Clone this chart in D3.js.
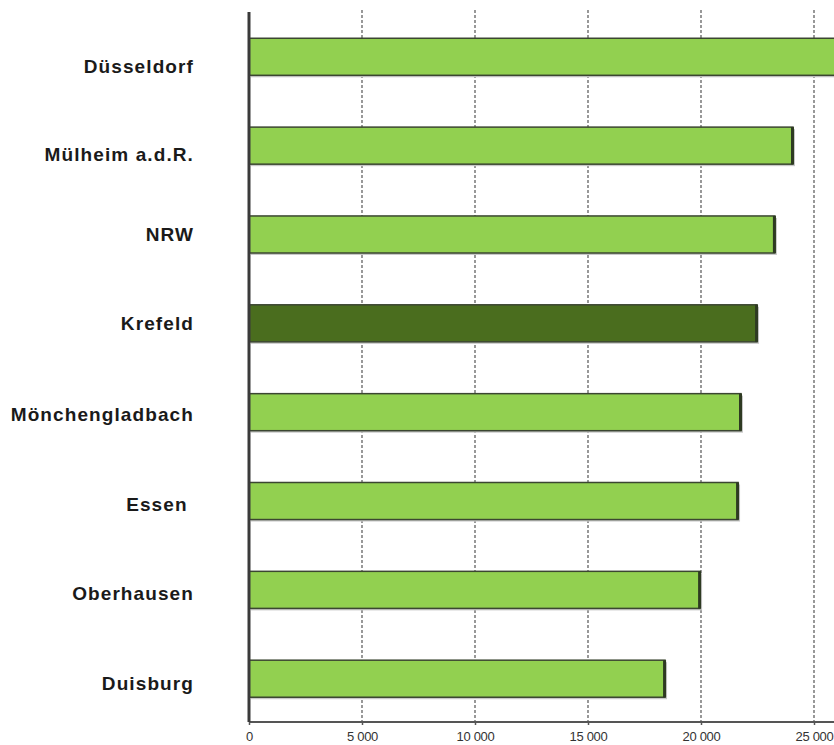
<!DOCTYPE html>
<html>
<head>
<meta charset="utf-8">
<script src="https://cdn.jsdelivr.net/npm/d3@7"></script>
<style>
    html, body { margin: 0; padding: 0; background: #fff; }
    svg { display: block; }
</style>
</head>
<body>
<div id="chart"></div>
<script>
// Data
const cities = ["Düsseldorf", "Mülheim a.d.R.", "NRW", "Krefeld", "Mönchengladbach", "Essen ", "Oberhausen", "Duisburg"];
const values = [26800, 24070, 23270, 22480, 21770, 21640, 19960, 18410];
const highlight = ["Krefeld"];
const tickValues = [0, 5000, 10000, 15000, 20000, 25000];

// Layout: small vertical nudges of the labels, as in the original
const labelNudge = [9, 9, 0, 0, 2, 3, 3, 4];

const width = 834, height = 745;
const axisX = 249;       // left edge of plot
const axisY = 722;       // baseline of x axis
const plotTop = 12;

const COLORS = {
    bar: "#92d050",
    barDark: "#4a6d1e",
    edge: "#3b4631",
    grid: "#555",
    axis: "#555",
    text: "#1a1a1a"
};

const svg = d3.select("#chart").append("svg")
    .attr("width", width)
    .attr("height", height);

const x = d3.scaleLinear()
    .domain([0, 25000])
    .range([axisX, 814]);

const y = d3.scaleBand()
    .domain(cities)
    .range([plotTop + 0.5, axisY + 1])
    .paddingInner(0.583)
    .paddingOuter(0.29);

// Gridlines (dashed)
svg.append("g")
    .selectAll("line")
    .data(tickValues.slice(1))
    .enter()
    .append("line")
    .attr("x1", d => x(d))
    .attr("x2", d => x(d))
    .attr("y1", 10)
    .attr("y2", axisY)
    .attr("stroke", COLORS.grid)
    .attr("stroke-width", 1.2)
    .attr("stroke-dasharray", "3,2");

// Bars
const bars = svg.append("g");

// faint shadow under each bar
bars.selectAll(".shadow")
    .data(cities)
    .enter()
    .append("rect")
    .attr("class", "shadow")
    .attr("x", axisX + 2)
    .attr("y", d => y(d) + 2)
    .attr("width", (d, i) => x(values[i]) - axisX)
    .attr("height", y.bandwidth())
    .attr("fill", "#c8c8c8");

bars.selectAll(".bar")
    .data(cities)
    .enter()
    .append("rect")
    .attr("class", "bar")
    .attr("x", axisX)
    .attr("y", d => y(d))
    .attr("width", (d, i) => x(values[i]) - axisX)
    .attr("height", y.bandwidth())
    .attr("fill", d => highlight.includes(d) ? COLORS.barDark : COLORS.bar)
    .attr("stroke", COLORS.edge)
    .attr("stroke-width", 1.5);

// darker right edge (3d look)
bars.selectAll(".edge")
    .data(cities)
    .enter()
    .append("rect")
    .attr("class", "edge")
    .attr("x", (d, i) => x(values[i]) - 2)
    .attr("y", d => y(d))
    .attr("width", 3)
    .attr("height", y.bandwidth())
    .attr("fill", "#2e3a22");

// Category labels
svg.append("g")
    .selectAll("text")
    .data(cities)
    .enter()
    .append("text")
    .attr("x", 194)
    .attr("y", (d, i) => y(d) + y.bandwidth() / 2 + labelNudge[i])
    .attr("dy", "0.36em")
    .attr("text-anchor", "end")
    .style("white-space", "pre")
    .attr("font-family", "Liberation Sans, Arial, sans-serif")
    .attr("font-weight", "bold")
    .attr("font-size", "19px")
    .attr("letter-spacing", "1.1px")
    .attr("fill", COLORS.text)
    .text(d => d);

// X axis
const xAxis = d3.axisBottom(x)
    .tickValues(tickValues)
    .tickSize(3)
    .tickFormat(d => d === 0 ? "0" : d3.format(",")(d).replace(",", " "));

const gx = svg.append("g")
    .attr("transform", `translate(0,${axisY})`)
    .call(xAxis);
gx.select(".domain")
    .attr("d", `M${axisX},0H${width}`)
    .attr("stroke", COLORS.axis)
    .attr("stroke-width", 2);
gx.selectAll(".tick line").attr("stroke", COLORS.axis).attr("stroke-width", 1.5);
gx.selectAll(".tick text")
    .attr("y", 15)
    .attr("dy", "0.32em")
    .attr("font-family", "Liberation Sans, Arial, sans-serif")
    .attr("font-size", "13px")
    .attr("letter-spacing", "-0.3px")
    .attr("fill", "#333");

// Y axis line
svg.append("line")
    .attr("x1", axisX)
    .attr("x2", axisX)
    .attr("y1", plotTop)
    .attr("y2", axisY)
    .attr("stroke", "#3a3a3a")
    .attr("stroke-width", 3);
</script>
</body>
</html>
